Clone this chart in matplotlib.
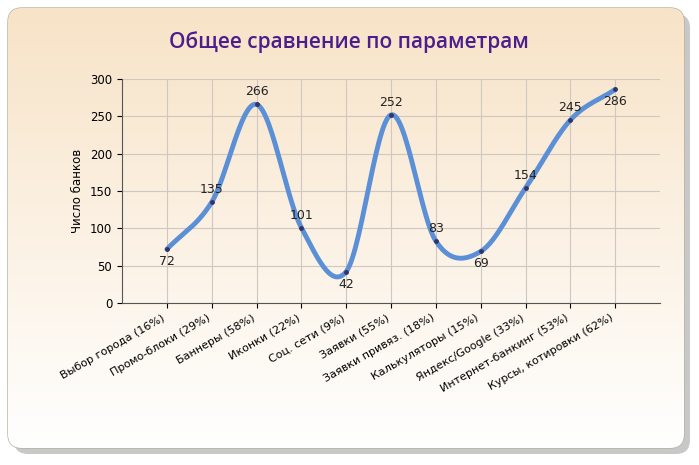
import matplotlib.pyplot as plt
import numpy as np
from matplotlib.patches import FancyBboxPatch

# Data
categories = ["Выбор города (16%)", "Промо-блоки (29%)", "Баннеры (58%)", "Иконки (22%)",
              "Соц. сети (9%)", "Заявки (55%)", "Заявки привяз. (18%)", "Калькуляторы (15%)",
              "Яндекс/Google (33%)", "Интернет-банкинг (53%)", "Курсы, котировки (62%)"]
values = [72, 135, 266, 101, 42, 252, 83, 69, 154, 245, 286]
label_above = [False, True, True, True, False, True, True, False, True, True, False]

fig = plt.figure(figsize=(6.99, 4.65), dpi=100)

# background panel with shadow and gradient
bg = fig.add_axes([0, 0, 1, 1])
bg.set_xlim(0, 699); bg.set_ylim(465, 0); bg.axis("off")
shadow = FancyBboxPatch((14, 14), 676, 440, boxstyle="round,pad=0,rounding_size=14",
                        fc="#c8c8c8", ec="none", zorder=0)
bg.add_patch(shadow)
panel = FancyBboxPatch((8, 8), 676, 440, boxstyle="round,pad=0,rounding_size=14",
                       fc="white", ec="#b8b0a0", lw=1, zorder=1)
bg.add_patch(panel)
grad = np.linspace(0, 1, 256).reshape(-1, 1)
c_top = np.array([0.97, 0.89, 0.78]); c_bot = np.array([1.0, 1.0, 1.0])
img = c_top + (c_bot - c_top) * grad[..., None]
im = bg.imshow(img, extent=[8, 684, 448, 8], aspect="auto", zorder=2)
im.set_clip_path(panel)
bg.text(349, 42, "Общее сравнение по параметрам", ha="center", va="center",
        fontsize=15, color="#4b1e8c", family="Open Sans", weight="semibold", zorder=3)

ax = fig.add_axes([122 / 699, 1 - 303 / 465, 538 / 699, 224 / 465])
ax.set_facecolor("none")
x = np.arange(len(values))

# smooth curve (Catmull-Rom through the points)
px = np.concatenate([[x[0] - 1], x, [x[-1] + 1]]).astype(float)
py = np.concatenate([[2 * values[0] - values[1]], values, [2 * values[-1] - values[-2]]]).astype(float)
sx, sy = [], []
for i in range(1, len(px) - 2):
    t = np.linspace(0, 1, 30)
    for arr, out in ((px, sx), (py, sy)):
        p0, p1, p2, p3 = arr[i - 1:i + 3]
        out.extend(0.5 * (2 * p1 + (-p0 + p2) * t + (2 * p0 - 5 * p1 + 4 * p2 - p3) * t ** 2
                          + (-p0 + 3 * p1 - 3 * p2 + p3) * t ** 3))
ax.plot(sx, sy, color="#5b8fd6", lw=3.5, solid_capstyle="round", zorder=3)
ax.scatter(x, values, s=6, color="#333366", zorder=4)
for xi, v, up in zip(x, values, label_above):
    ax.annotate(str(v), (xi, v), xytext=(0, 9 if up else -9), textcoords="offset points",
                ha="center", va="center", fontsize=9, color="#222222", zorder=5)

ax.set_xlim(-1, 11)
ax.set_ylim(0, 300)
ax.set_yticks(range(0, 301, 50))
ax.set_xticks(x)
ax.set_xticklabels(categories, rotation=30, ha="right", fontsize=8)
ax.tick_params(axis="y", labelsize=8.5)
ax.grid(True, color="#d0c8c0", lw=0.8)
for s in ["top", "right"]:
    ax.spines[s].set_visible(False)
ax.spines["left"].set_color("#555555")
ax.spines["bottom"].set_color("#555555")
ax.set_ylabel("Число банков", fontsize=8.5)

fig.savefig("out.png", dpi=100)
